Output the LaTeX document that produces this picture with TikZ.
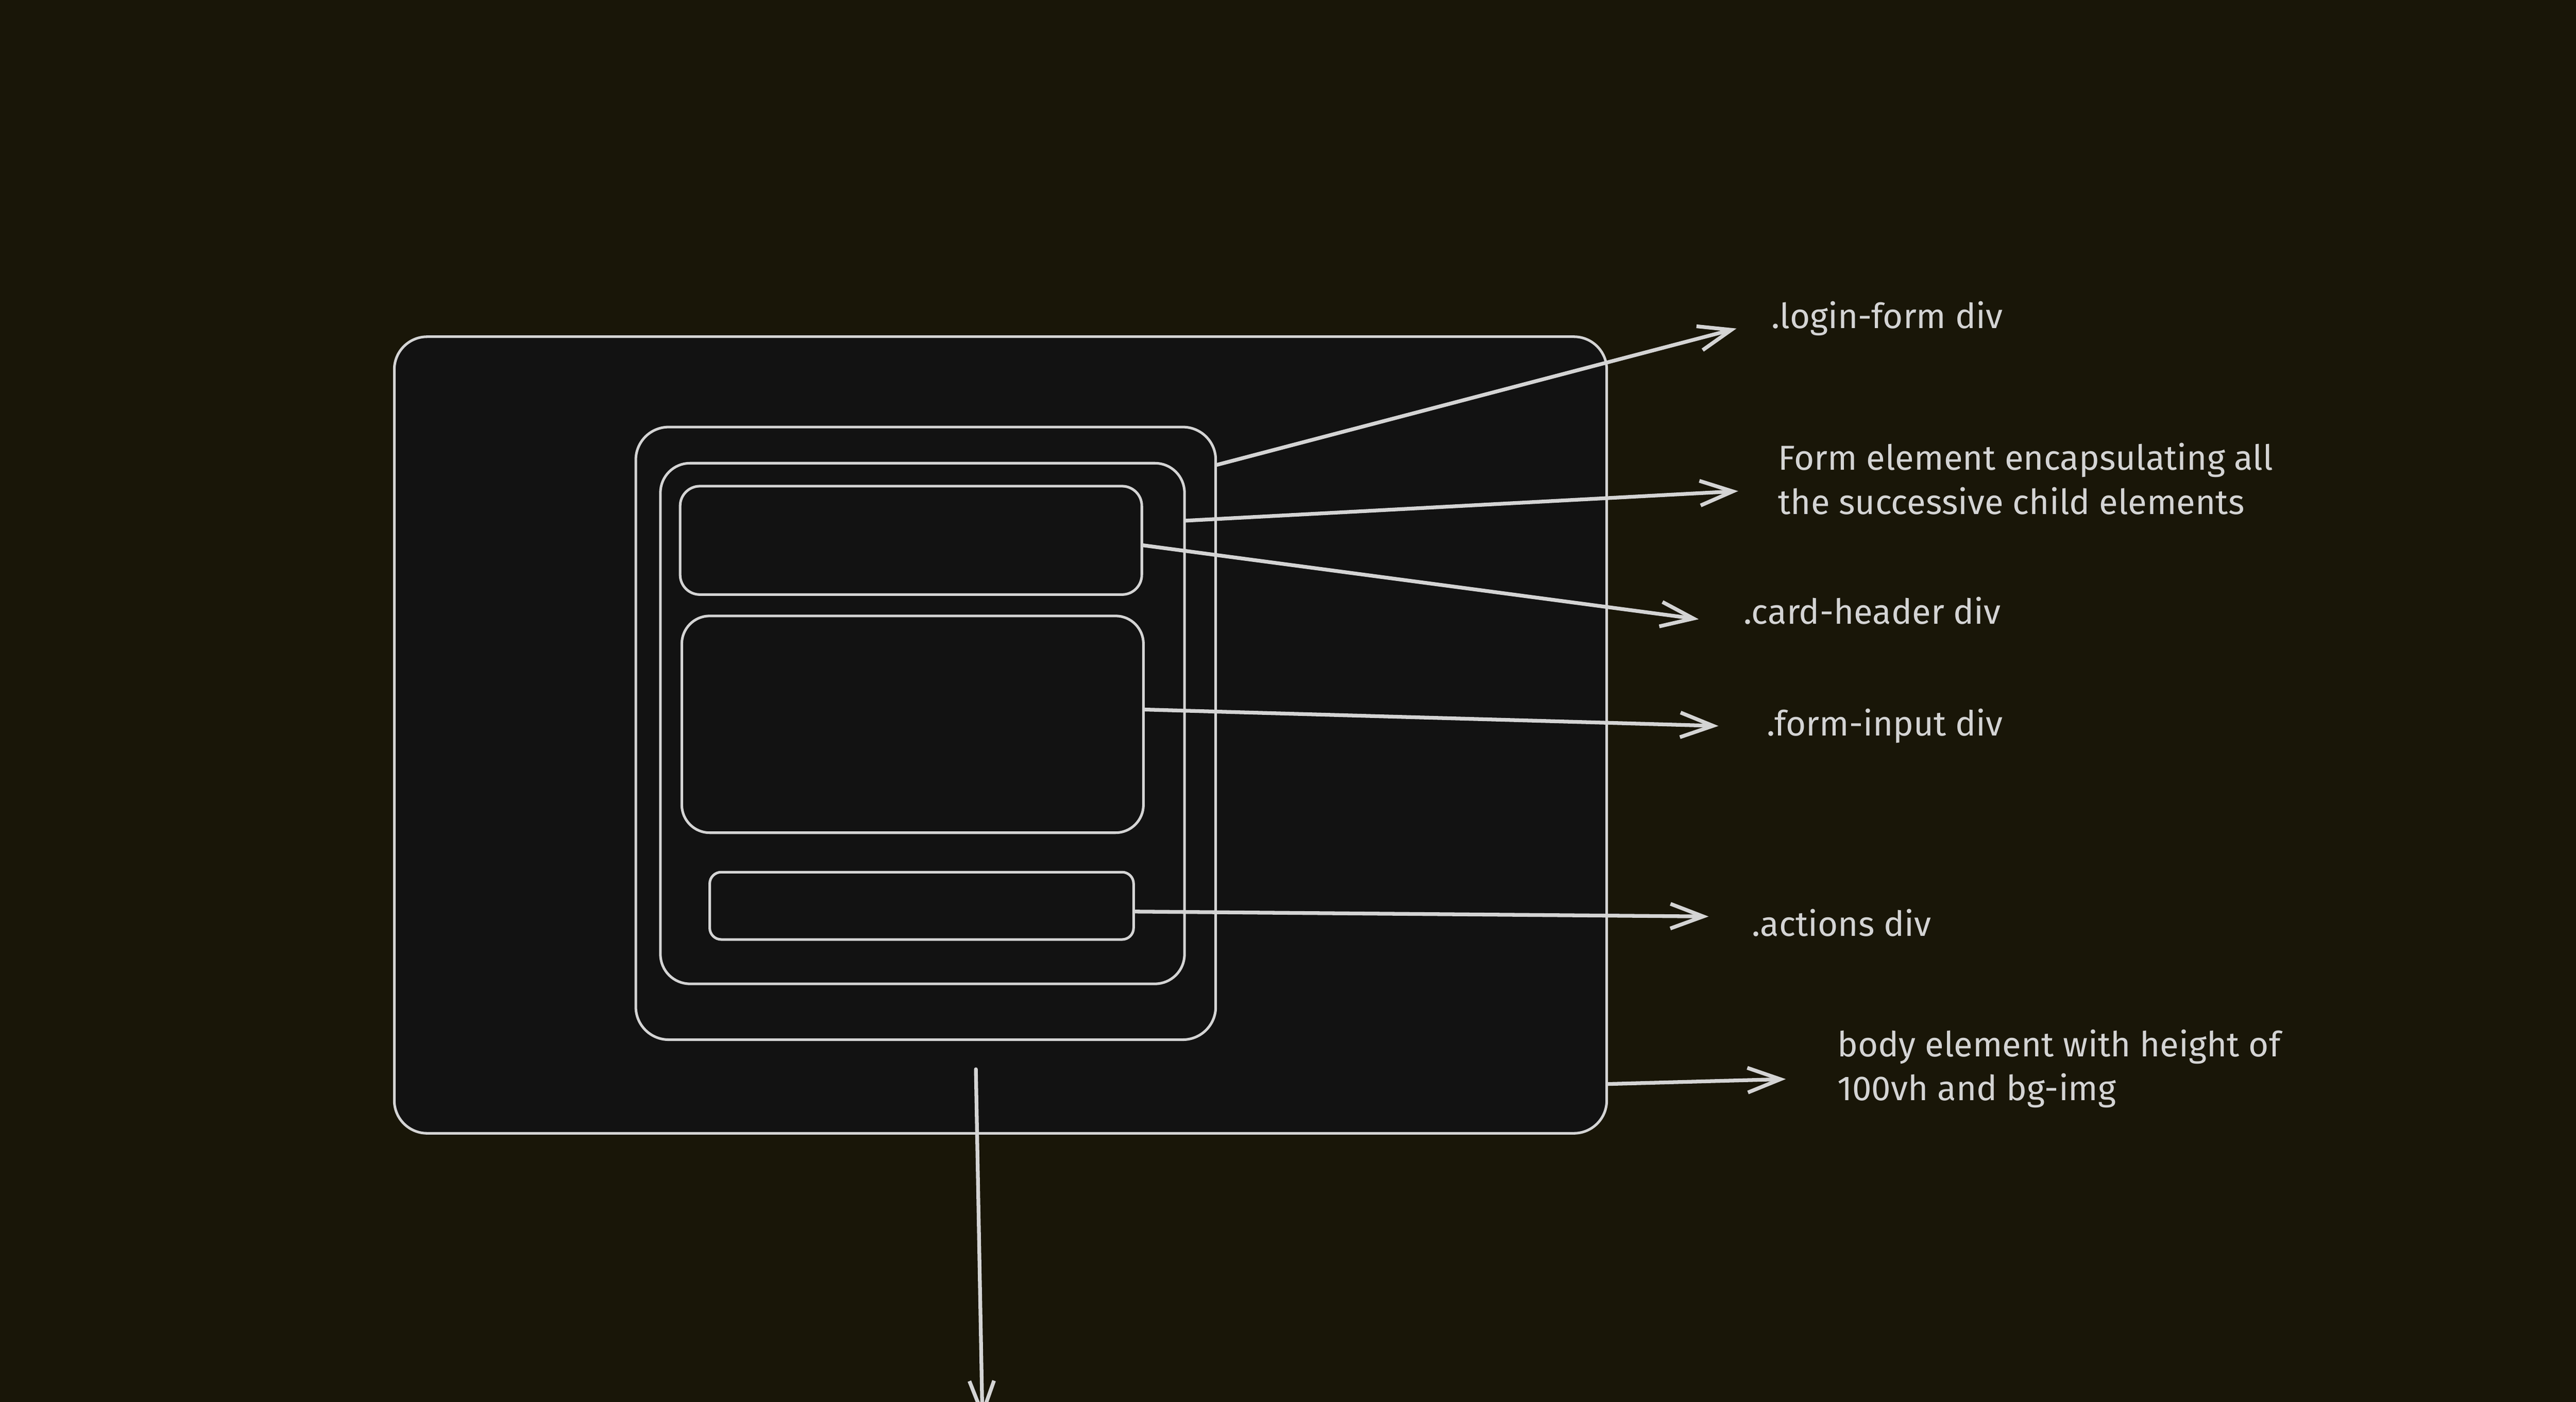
\documentclass[tikz,border=0pt]{standalone}
\usepackage{fontspec}
\setmainfont{Fira Sans}
\usetikzlibrary{arrows.meta,fit}
\definecolor{bgcol}{RGB}{25,22,8}
\definecolor{boxfill}{RGB}{18,18,18}
\definecolor{ink}{RGB}{212,212,212}
\tikzset{
    box/.style={draw=ink, line width=0.9pt, fill=boxfill, inner sep=0pt},
    arr/.style={draw=ink, line width=1.3pt, line cap=round, -{Straight Barb[length=0.4cm, width=0.3cm]}},
    lbl/.style={text=ink, anchor=base west, inner sep=0pt, align=left, font=\fontsize{12}{15.2}\selectfont}
}
\begin{document}
\begin{tikzpicture}[x=0.02cm, y=-0.02cm]
    \useasboundingbox (0,0) rectangle (1568,853.6);
    \fill[bgcol] (0,0) rectangle (1568,853.6);

    % Page and the nested card
    \node[box, rounded corners=0.4cm, fit={(240,205) (978,690)}] (body) {};
    \node[box, rounded corners=0.4cm, fit={(387,260) (740,633)}] (login) {};
    \node[box, rounded corners=0.36cm, fit={(402,282) (721,599)}] (form) {};
    \node[box, rounded corners=0.24cm, fit={(414,296) (695,362)}] (header) {};
    \node[box, rounded corners=0.34cm, fit={(415,375) (696,507)}] (input) {};
    \node[box, rounded corners=0.14cm, fit={(432,531) (690,572)}] (actions) {};

    % Labels (two-line ones sit on their last line)
    \node[lbl] (loginLbl) at (1078,200) {.login-form div};
    \node[lbl] (formLbl) at (1082,313) {Form element encapsulating all\\the successive child elements};
    \node[lbl] (headerLbl) at (1061,380) {.card-header div};
    \node[lbl] (inputLbl) at (1075,448) {.form-input div};
    \node[lbl] (actionsLbl) at (1066,570) {.actions div};
    \node[lbl] (bodyLbl) at (1118,670) {body element with height of\\100vh and bg-img};

    % Arrow tips
    \coordinate (tipLogin) at (1057,200);
    \coordinate (tipForm) at (1058,299);
    \coordinate (tipHeader) at (1034,377);
    \coordinate (tipInput) at (1046,442);
    \coordinate (tipActions) at (1040,558);
    \coordinate (tipBody) at (1087,657);
    \coordinate (downFrom) at (594,651);
    \coordinate (tipDown) at (598,864);

    \draw[arr] (login.east |- 0,283) -- (tipLogin);
    \draw[arr] (form.east |- 0,317) -- (tipForm);
    \draw[arr] (header.east |- 0,332) -- (tipHeader);
    \draw[arr] (input.east |- 0,432) -- (tipInput);
    \draw[arr] (actions.east |- 0,555) -- (tipActions);
    \draw[arr] (body.east |- 0,660) -- (tipBody);
    \draw[arr] (downFrom) -- (tipDown);
\end{tikzpicture}
\end{document}
